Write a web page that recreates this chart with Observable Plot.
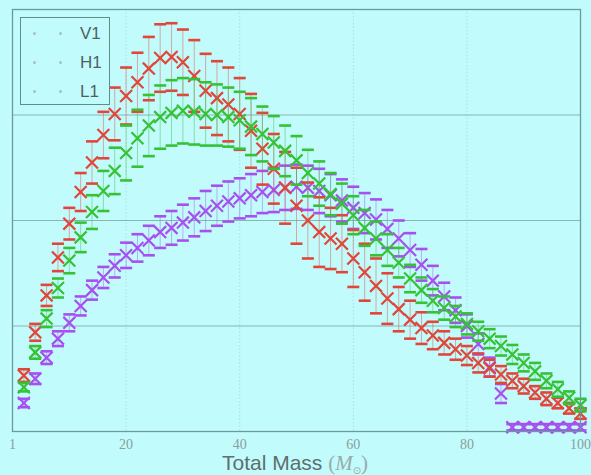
<!DOCTYPE html>
<html><head><meta charset="utf-8">
<script src="https://cdn.jsdelivr.net/npm/d3@7"></script>
<script src="https://cdn.jsdelivr.net/npm/@observablehq/plot@0.6"></script>
<style>
html,body{margin:0;padding:0;background:#c2fbfb;}
#wrap{position:relative;width:591px;height:475px;overflow:hidden;}
#legend{position:absolute;left:20px;top:17px;width:90px;height:88px;border:1.5px solid #5f8d8d;box-sizing:border-box;background:#c2fbfb;font-family:"Liberation Sans",Arial,sans-serif;padding-top:1px;}
#legend .row{position:relative;height:29px;line-height:29px;}
#legend .dot{position:absolute;top:13px;width:3px;height:3px;border-radius:50%;background:#a7c2c2;}
#legend .lab{position:absolute;left:59px;font-size:17px;color:#4f6262;}
</style>
</head><body>
<div id="wrap"><div id="chart"></div><div id="legend"></div></div>
<script>
// Total mass (x) values
const mass = [2,4,6,8,10,12,14,16,18,20,22,24,26,28,30,32,34,36,38,40,42,44,46,48,50,52,54,56,58,60,62,64,66,68,70,72,74,76,78,80,82,84,86,88,90,92,94,96,98,100];

// V1 (purple)
const v1 = [0.27,0.50,0.70,0.88,1.03,1.19,1.34,1.46,1.57,1.67,1.74,1.81,1.89,1.93,1.98,2.03,2.09,2.14,2.18,2.21,2.24,2.27,2.29,2.31,2.32,2.31,2.28,2.24,2.19,2.12,2.07,2.01,1.92,1.83,1.72,1.58,1.43,1.28,1.15,1.00,0.83,0.61,0.36,0.04,0.04,0.04,0.04,0.04,0.04,0.04];
const v1Err = [0.04,0.05,0.06,0.07,0.08,0.09,0.09,0.10,0.11,0.12,0.13,0.14,0.15,0.16,0.17,0.18,0.19,0.19,0.19,0.19,0.20,0.20,0.21,0.21,0.21,0.21,0.21,0.20,0.20,0.20,0.19,0.19,0.18,0.17,0.16,0.15,0.14,0.13,0.12,0.11,0.10,0.09,0.09,0.03,0.03,0.03,0.03,0.03,0.03,0.03];

// H1 (red)
const h1 = [0.53,0.94,1.29,1.65,1.97,2.27,2.55,2.81,3.01,3.18,3.31,3.44,3.54,3.55,3.50,3.37,3.23,3.16,3.10,3.01,2.85,2.68,2.49,2.31,2.14,2.00,1.89,1.83,1.78,1.64,1.51,1.38,1.26,1.16,1.06,0.98,0.91,0.84,0.78,0.72,0.65,0.60,0.54,0.48,0.43,0.37,0.31,0.27,0.22,0.17];
const h1Err = [0.06,0.08,0.10,0.13,0.15,0.18,0.20,0.22,0.25,0.27,0.28,0.30,0.32,0.32,0.31,0.34,0.35,0.35,0.35,0.34,0.35,0.34,0.33,0.34,0.36,0.36,0.33,0.29,0.27,0.27,0.27,0.26,0.24,0.21,0.18,0.15,0.13,0.11,0.10,0.09,0.09,0.08,0.08,0.07,0.07,0.06,0.06,0.05,0.05,0.05];

// L1 (green)
const l1 = [0.42,0.75,1.07,1.36,1.62,1.84,2.08,2.28,2.47,2.64,2.78,2.90,2.98,3.02,3.04,3.03,3.01,3.00,2.98,2.95,2.89,2.82,2.74,2.66,2.57,2.45,2.35,2.25,2.16,2.05,1.93,1.83,1.72,1.60,1.45,1.34,1.24,1.17,1.09,1.02,0.95,0.88,0.81,0.73,0.65,0.57,0.48,0.40,0.32,0.25];
const l1Err = [0.04,0.06,0.08,0.09,0.12,0.14,0.16,0.19,0.22,0.26,0.27,0.29,0.30,0.31,0.31,0.31,0.30,0.29,0.28,0.27,0.27,0.26,0.25,0.24,0.23,0.22,0.21,0.20,0.19,0.18,0.17,0.16,0.15,0.14,0.13,0.12,0.11,0.11,0.10,0.10,0.09,0.09,0.09,0.09,0.08,0.08,0.07,0.07,0.06,0.06];

const seriesNames = ["V1","H1","L1"];
const seriesColors = ["#a650f0","#e0463a","#35c235"];
const xTicks = [0,20,40,60,80,100];
const xTickLabels = ["1","20","40","60","80","100"];
const yGrid = [1,2,3];

const seriesData = {V1:[v1,v1Err], H1:[h1,h1Err], L1:[l1,l1Err]};

const cap = {draw(ctx, size){ const w = Math.sqrt(size/Math.PI); ctx.moveTo(-w,0); ctx.lineTo(w,0); }};

const marks = [
  Plot.gridY(yGrid, {stroke:"#86b6b6", strokeOpacity:1}),
  Plot.gridX([20,40,60,80], {stroke:"#86b6b6", strokeOpacity:0.4, strokeDasharray:"1.5,2"})
];
for (const name of seriesNames) {
  const [vals, errs] = seriesData[name];
  const rows = mass.map((m,i)=>({series:name, m, v:vals[i], lo:vals[i]-errs[i], hi:vals[i]+errs[i]}));
  marks.push(
    Plot.ruleX(rows, {x:"m", y1:"lo", y2:"hi", stroke:"series", strokeOpacity:0.45, strokeWidth:1}),
    Plot.dot(rows, {x:"m", y:"hi", symbol:cap, r:6, stroke:"series", fill:"none", strokeWidth:2.6}),
    Plot.dot(rows, {x:"m", y:"lo", symbol:cap, r:6, stroke:"series", fill:"none", strokeWidth:2.6}),
    Plot.dot(rows, {x:"m", y:"v", symbol:"times", r:5.5, stroke:"series", fill:"none", strokeWidth:2.2})
  );
}
marks.push(
  Plot.frame({stroke:"#6a9a9a", strokeWidth:1.3}),
  Plot.axisX({ticks:xTicks, tickFormat:(d,i)=>xTickLabels[xTicks.indexOf(d)], tickSize:0, tickPadding:8,
    fontSize:14, fontFamily:"'Liberation Serif','DejaVu Serif',serif", fill:"#8a9d9d", label:null})
);

const chart = Plot.plot({
  width:591, height:475,
  marginLeft:12, marginRight:11, marginTop:9, marginBottom:44,
  style:{background:"#c2fbfb", color:"#8a9d9d"},
  x:{domain:[0,100]},
  y:{domain:[0,4], axis:null},
  color:{domain:seriesNames, range:seriesColors},
  marks
});
document.getElementById("chart").appendChild(chart);

// axis label
const svg = d3.select(chart);
const t = svg.append("text").attr("x", 295).attr("y", 470).attr("text-anchor","middle")
  .attr("font-family","'Liberation Sans',Arial,sans-serif").attr("font-size",21).attr("fill","#5d6f6f");
t.append("tspan").text("Total Mass ");
t.append("tspan").attr("font-family","'Liberation Serif',serif").attr("fill","#98abab").text("(");
t.append("tspan").attr("font-family","'Liberation Serif',serif").attr("font-style","italic").attr("fill","#98abab").text("M");
t.append("tspan").attr("font-family","'DejaVu Sans',sans-serif").attr("font-size",10).attr("dy",4).attr("fill","#98abab").text("⊙");
t.append("tspan").attr("font-family","'Liberation Serif',serif").attr("dy",-4).attr("fill","#98abab").text(")");

// legend
const lg = d3.select("#legend");
seriesNames.forEach(n => {
  const r = lg.append("div").attr("class","row");
  r.append("div").attr("class","dot").style("left","12px");
  r.append("div").attr("class","dot").style("left","38px");
  r.append("div").attr("class","lab").text(n);
});
</script>
</body></html>
